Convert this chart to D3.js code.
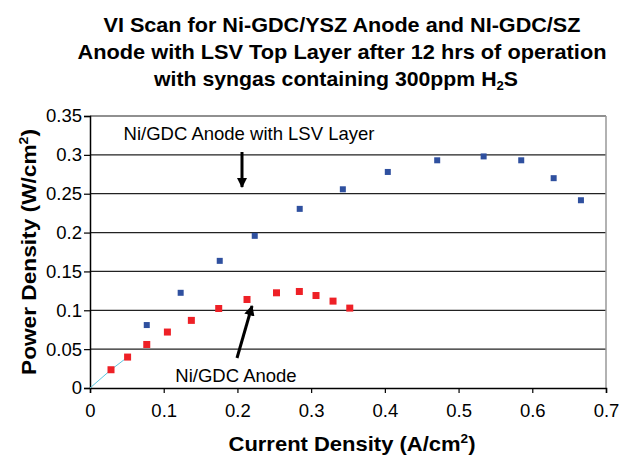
<!DOCTYPE html>
<html>
<head>
<meta charset="utf-8">
<script src="https://cdn.jsdelivr.net/npm/d3@7"></script>
<style>
  body { margin: 0; background: #fff; }
  svg { font-family: "Liberation Sans", Arial, sans-serif; }
</style>
</head>
<body>
<svg id="chart" width="621" height="457"></svg>
<script>
// data
const lsvX = [0.077, 0.123, 0.176, 0.2235, 0.2845, 0.343, 0.404, 0.471, 0.534, 0.585, 0.629, 0.666];
const lsvY = [0.081, 0.1225, 0.1636, 0.1958, 0.2305, 0.2557, 0.278, 0.293, 0.298, 0.293, 0.270, 0.2416];
const anodeX = [0.0285, 0.051, 0.077, 0.105, 0.1375, 0.1746, 0.213, 0.253, 0.284, 0.3066, 0.3297, 0.3524];
const anodeY = [0.0235, 0.0398, 0.056, 0.072, 0.087, 0.1023, 0.1139, 0.1225, 0.1242, 0.119, 0.1118, 0.1028];
const fitX = [0, 0.0285, 0.051];
const fitY = [0, 0.0235, 0.0398];
const xTicks = [0, 0.1, 0.2, 0.3, 0.4, 0.5, 0.6, 0.7];
const yTicks = [0, 0.05, 0.1, 0.15, 0.2, 0.25, 0.3, 0.35];
const titleLines = ["VI Scan for Ni-GDC/YSZ Anode and NI-GDC/SZ",
                    "Anode with LSV Top Layer after 12 hrs of operation"];

const svg = d3.select("#chart");
const margin = { left: 90, right: 15, top: 116, bottom: 69 };
const width = 621 - margin.left - margin.right;
const height = 457 - margin.top - margin.bottom;

const x = d3.scaleLinear().domain([0, 0.7]).range([0, width]);
const y = d3.scaleLinear().domain([0, 0.35]).range([height, 0]);

const g = svg.append("g")
    .attr("transform", "translate(" + margin.left + "," + margin.top + ")");

// gridlines
g.selectAll(".grid").data(yTicks.slice(1)).enter().append("line")
    .attr("x1", 0).attr("x2", width)
    .attr("y1", d => y(d)).attr("y2", d => y(d))
    .attr("stroke", "#222").attr("stroke-width", 1.2);

// right border
g.append("line")
    .attr("x1", width).attr("x2", width).attr("y1", 0).attr("y2", height)
    .attr("stroke", "#999").attr("stroke-width", 1.5);

// axes
const fmt = d => d3.format("")(+d.toFixed(2));
const xAxis = g.append("g")
    .attr("transform", "translate(0," + height + ")")
    .call(d3.axisBottom(x).tickValues(xTicks).tickFormat(fmt).tickSizeOuter(0).tickSize(5).tickPadding(11));
const yAxis = g.append("g")
    .call(d3.axisLeft(y).tickValues(yTicks).tickFormat(fmt).tickSizeOuter(0).tickSize(6).tickPadding(2));
[xAxis, yAxis].forEach(a => {
    a.select(".domain").attr("stroke", "#000").attr("stroke-width", 1.5);
    a.selectAll(".tick line").attr("stroke", "#000").attr("stroke-width", 1.2);
    a.selectAll("text").attr("font-size", 18.5).attr("fill", "#000")
        .attr("font-family", "Liberation Sans, Arial, sans-serif");
});

// small cyan line near origin
g.append("path")
    .datum(fitX.map((d, i) => [d, fitY[i]]))
    .attr("fill", "none").attr("stroke", "#5bc8e0").attr("stroke-width", 1)
    .attr("d", d3.line().x(d => x(d[0])).y(d => y(d[1])));

// markers
let sq = 6;
g.selectAll(".lsv").data(lsvX).enter().append("rect")
    .attr("x", (d) => x(d) - sq / 2)
    .attr("y", (d, i) => y(lsvY[i]) - sq / 2)
    .attr("width", sq).attr("height", sq)
    .attr("fill", "#2f509f");
let sq2 = 7;
g.selectAll(".anode").data(anodeX).enter().append("rect")
    .attr("x", (d) => x(d) - sq2 / 2)
    .attr("y", (d, i) => y(anodeY[i]) - sq2 / 2)
    .attr("width", sq2).attr("height", sq2)
    .attr("fill", "#ee2026");

// annotations
svg.append("defs").append("marker")
    .attr("id", "head").attr("viewBox", "0 0 10 10")
    .attr("refX", 9).attr("refY", 5)
    .attr("markerWidth", 3.5).attr("markerHeight", 3.5)
    .attr("orient", "auto")
    .append("path").attr("d", "M0,0 L10,5 L0,10 Z").attr("fill", "#000");

svg.append("text").text("Ni/GDC Anode with LSV Layer")
    .attr("x", 249).attr("y", 140).attr("text-anchor", "middle")
    .attr("font-size", 18.5).attr("fill", "#000");
svg.append("line")
    .attr("x1", 242).attr("y1", 152).attr("x2", 242).attr("y2", 187)
    .attr("stroke", "#000").attr("stroke-width", 3).attr("marker-end", "url(#head)");

svg.append("text").text("Ni/GDC Anode")
    .attr("x", 236).attr("y", 382).attr("text-anchor", "middle")
    .attr("font-size", 18.5).attr("fill", "#000");
svg.append("line")
    .attr("x1", 237).attr("y1", 358).attr("x2", 252).attr("y2", 306)
    .attr("stroke", "#000").attr("stroke-width", 3).attr("marker-end", "url(#head)");

// title (condensed bold, squeezed to the widths seen in the picture)
const title = svg.append("g").attr("font-weight", "bold").attr("font-size", 21)
    .attr("text-anchor", "middle").attr("fill", "#000");
const titleW = [477, 529];
titleLines.forEach((t, i) => {
    title.append("text").attr("x", 342).attr("y", 32 + i * 27)
        .attr("textLength", titleW[i]).attr("lengthAdjust", "spacingAndGlyphs").text(t);
});
const t3 = title.append("text").attr("x", 336).attr("y", 86)
    .attr("textLength", 364).attr("lengthAdjust", "spacingAndGlyphs");
t3.append("tspan").text("with syngas containing 300ppm H");
t3.append("tspan").text("2").attr("font-size", 13).attr("dy", 4);
t3.append("tspan").text("S").attr("dy", -4);

// axis titles
const xl = svg.append("text").attr("x", 352).attr("y", 451)
    .attr("text-anchor", "middle").attr("font-weight", "bold").attr("font-size", 21)
    .attr("textLength", 247).attr("lengthAdjust", "spacingAndGlyphs");
xl.append("tspan").text("Current Density (A/cm");
xl.append("tspan").text("2").attr("font-size", 13).attr("dy", -8);
xl.append("tspan").text(")").attr("dy", 8);

const yl = svg.append("text")
    .attr("transform", "translate(36,252) rotate(-90)")
    .attr("text-anchor", "middle").attr("font-weight", "bold").attr("font-size", 21)
    .attr("textLength", 246).attr("lengthAdjust", "spacingAndGlyphs");
yl.append("tspan").text("Power Density (W/cm");
yl.append("tspan").text("2").attr("font-size", 13).attr("dy", -8);
yl.append("tspan").text(")").attr("dy", 8);
</script>
</body>
</html>
